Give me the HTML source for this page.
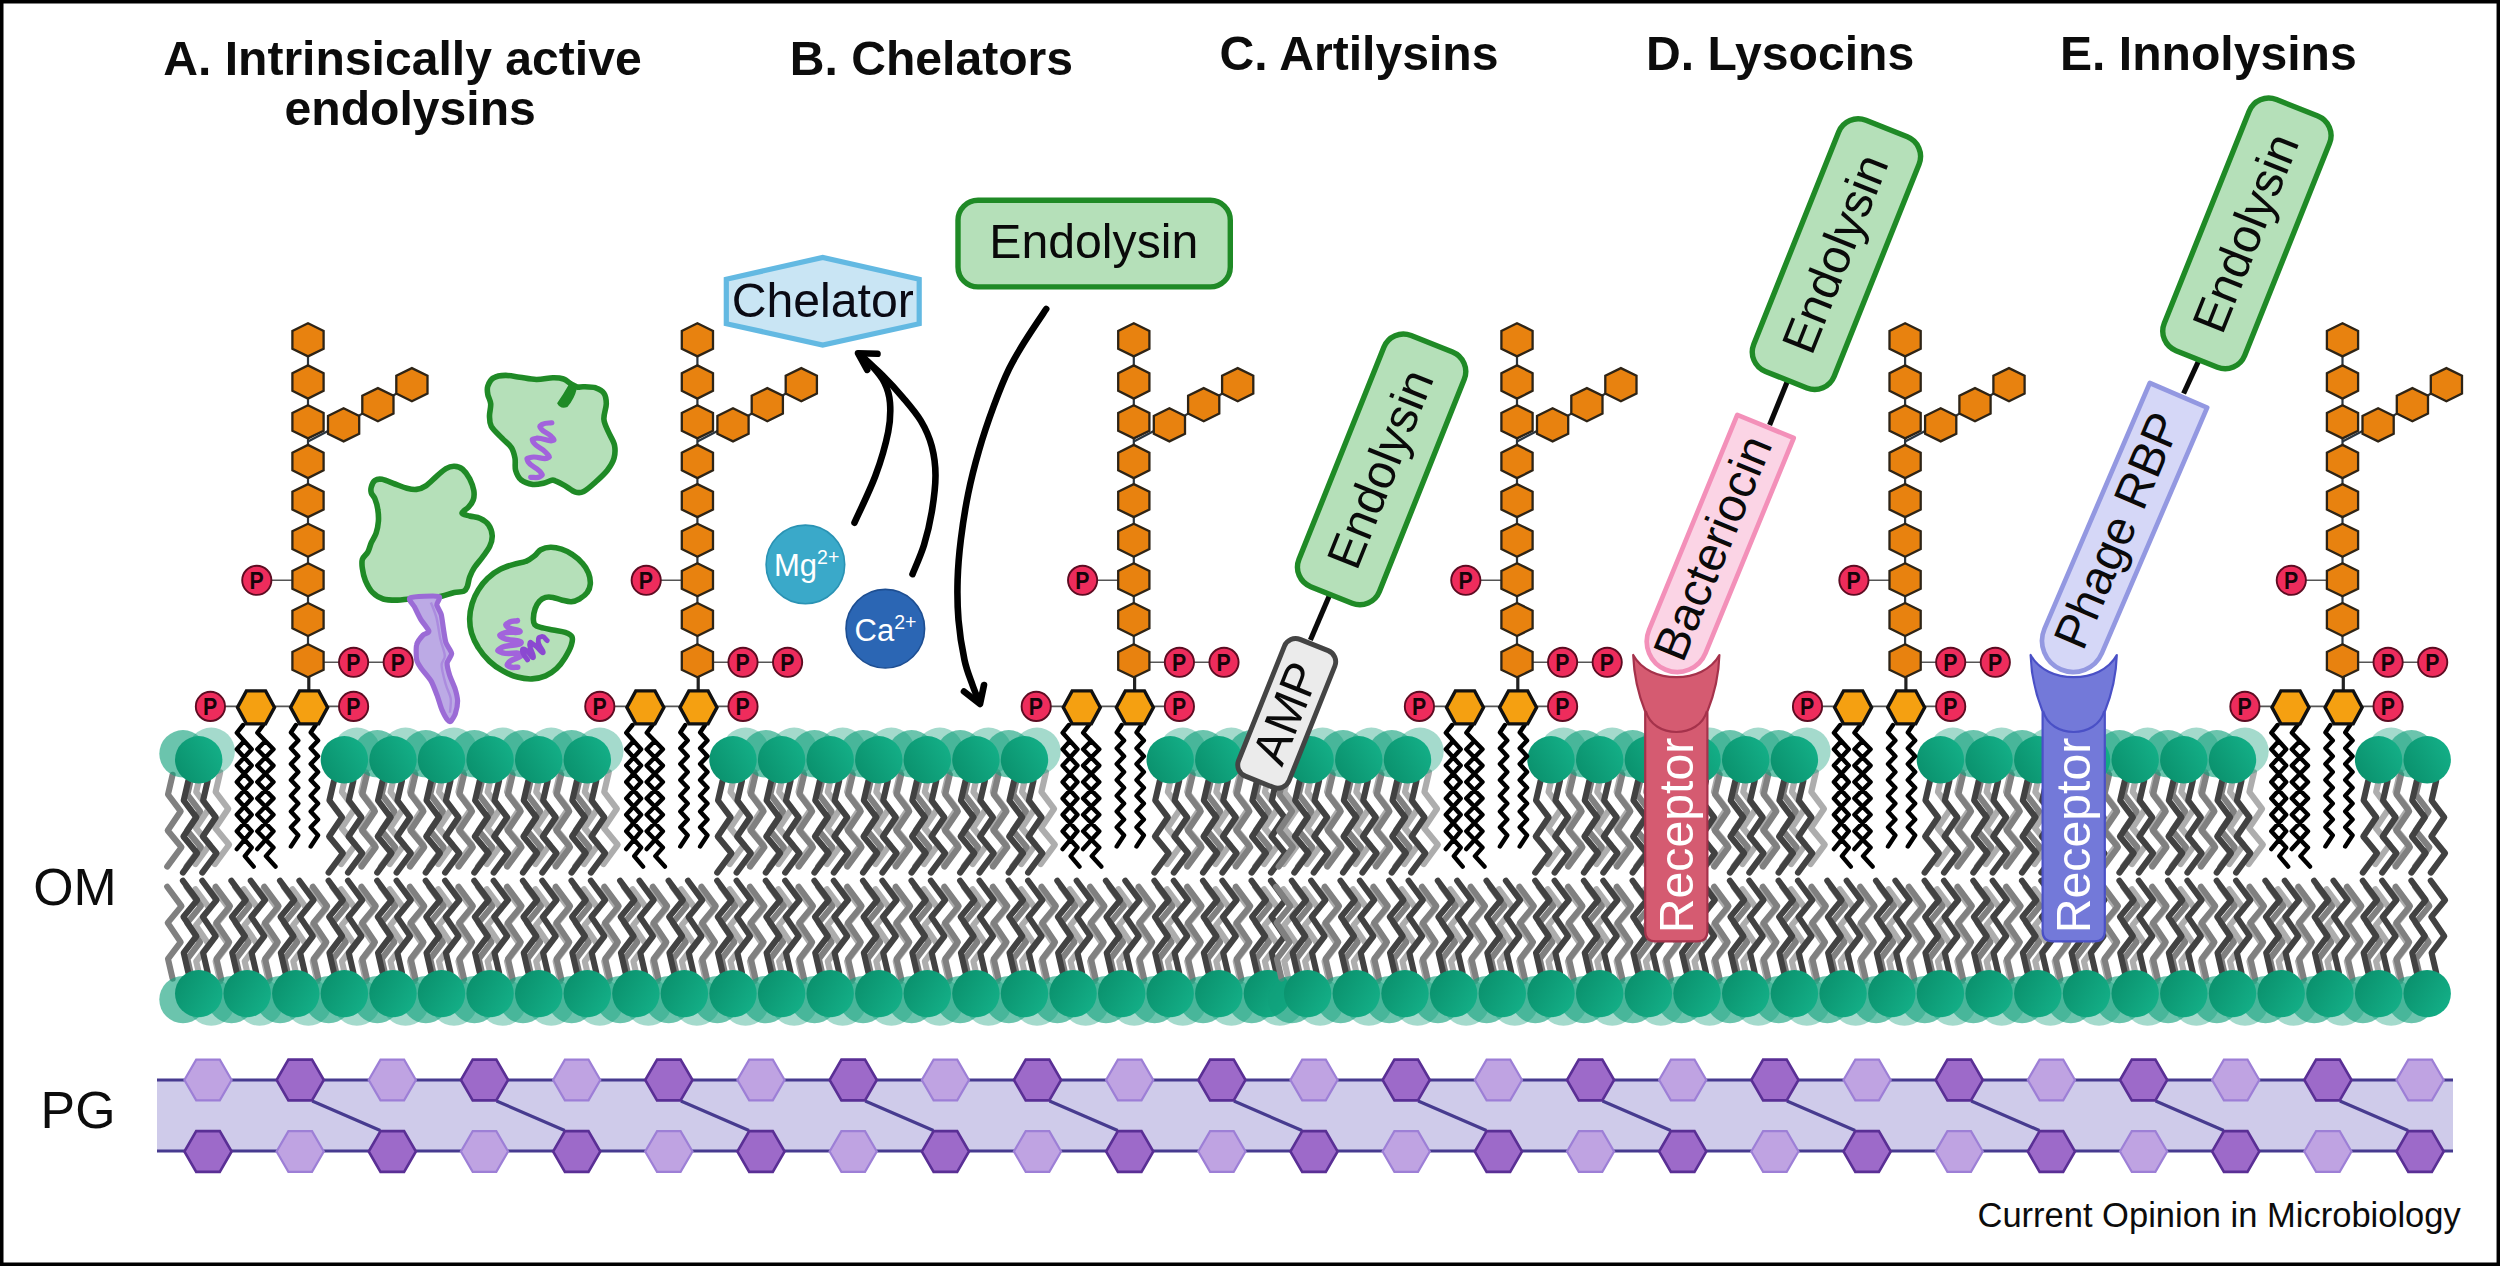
<!DOCTYPE html>
<html><head><meta charset="utf-8"><title>Figure</title>
<style>html,body{margin:0;padding:0;background:#fff}svg{display:block}text{font-family:"Liberation Sans",sans-serif}</style>
</head><body>
<svg width="2500" height="1266" viewBox="0 0 2500 1266">
<defs>
<linearGradient id="hg" x1="0" y1="0.8" x2="1" y2="0.2"><stop offset="0" stop-color="#0a906c"/><stop offset="1" stop-color="#14b088"/></linearGradient>
<g id="lt"><path d="M-10.4,21.0 L-15.0,40.7 L-2.3,57.5 L-15.3,76.7 L-1.5,93.5 L-15.8,112.8 M9.0,21.0 L4.4,40.7 L17.1,57.5 L4.1,76.7 L17.9,93.5 L3.6,112.8" fill="none" stroke-width="6.1" stroke-linecap="round" stroke-linejoin="round"/></g>
<g id="lipM"><use href="#lt" stroke="#424242"/><circle r="23.7" fill="url(#hg)"/></g>
<g id="lipS1"><use href="#lt" stroke="#808080"/><circle r="23.7" fill="#109f7a" fill-opacity="0.62"/></g>
<g id="lipS2"><use href="#lt" stroke="#adadad"/><circle r="23.7" fill="#109f7a" fill-opacity="0.38"/></g>
<g id="P"><circle r="14.6" fill="#ee2c5c" stroke="#5c0c22" stroke-width="1.9"/><text x="-0.3" y="8.9" text-anchor="middle" font-size="24.5" font-weight="bold" fill="#16040a" textLength="14.2" lengthAdjust="spacingAndGlyphs">P</text></g>
<g id="LPS"><g fill="none" stroke="#555" stroke-width="1.6"><path d="M-38,580.3 H-14 M14,662.3 H32 M58,662.3 H77 M-84,706.4 H-70 M-34,706.4 H-18 M20,706.4 H32"/></g><path d="M0,340 V662" stroke="#2b3640" stroke-width="2.2" fill="none"/><path d="M0.8,676 V692" stroke="#222" stroke-width="3.2" fill="none"/><path d="M0,441.5 L21,430.5 M35.6,424.6 L103.9,384.5" stroke="#2b3640" stroke-width="2.2" fill="none"/><path d="M-64.9,725.0 L-71.2,732.8 L-56.3,749.2 L-71.2,765.6 L-56.3,782.0 L-71.2,798.4 L-56.3,814.8 L-71.2,831.2 L-56.3,847.6 L-63.2,856.1 L-54.3,866.6 M-63.8,741.0 L-71.2,749.2 L-56.3,765.6 L-71.2,782.0 L-56.3,798.4 L-71.2,814.8 L-56.3,831.2 L-71.2,849.1 M-44.8,725.0 L-50.7,732.8 L-34.5,749.2 L-50.7,765.6 L-34.5,782.0 L-50.7,798.4 L-34.5,814.8 L-50.7,831.2 L-34.5,847.6 L-42.1,856.1 L-32.5,866.6 M-42.6,741.0 L-50.7,749.2 L-34.5,765.6 L-50.7,782.0 L-34.5,798.4 L-50.7,814.8 L-34.5,831.2 L-50.7,849.1 M-12.1,725.0 L-17.1,732.5 L-9.7,740.4 L-17.1,748.3 L-9.7,756.2 L-17.1,764.1 L-9.7,772.0 L-17.1,779.9 L-9.7,787.8 L-17.1,795.7 L-9.7,803.6 L-17.1,811.5 L-9.7,819.4 L-17.1,827.3 L-9.7,835.2 L-17.1,846.5 M7.7,725.0 L2.7,732.5 L10.1,740.4 L2.7,748.3 L10.1,756.2 L2.7,764.1 L10.1,772.0 L2.7,779.9 L10.1,787.8 L2.7,795.7 L10.1,803.6 L2.7,811.5 L10.1,819.4 L2.7,827.3 L10.1,835.2 L2.7,846.5" fill="none" stroke="#000" stroke-width="4.4" stroke-linecap="round" stroke-linejoin="round"/><g fill="#e8820f" stroke="#2e2416" stroke-width="2.3"><polygon points="0.0,323.2 15.6,330.9 15.6,348.7 0.0,356.4 -15.6,348.7 -15.6,330.9"/><polygon points="0.0,365.4 15.6,373.1 15.6,390.9 0.0,398.6 -15.6,390.9 -15.6,373.1"/><polygon points="0.0,405.2 15.6,412.9 15.6,430.7 0.0,438.4 -15.6,430.7 -15.6,412.9"/><polygon points="0.0,444.9 15.6,452.6 15.6,470.4 0.0,478.1 -15.6,470.4 -15.6,452.6"/><polygon points="0.0,484.1 15.6,491.7 15.6,509.5 0.0,517.1 -15.6,509.5 -15.6,491.7"/><polygon points="0.0,523.7 15.6,531.3 15.6,549.1 0.0,556.8 -15.6,549.1 -15.6,531.3"/><polygon points="0.0,563.2 15.6,570.9 15.6,588.7 0.0,596.3 -15.6,588.7 -15.6,570.9"/><polygon points="0.0,603.0 15.6,610.6 15.6,628.4 0.0,636.0 -15.6,628.4 -15.6,610.6"/><polygon points="0.0,644.2 15.6,651.9 15.6,669.7 0.0,677.3 -15.6,669.7 -15.6,651.9"/><polygon points="35.6,408.2 51.2,415.9 51.2,433.7 35.6,441.4 20.0,433.7 20.0,415.9"/><polygon points="69.9,388.1 85.5,395.7 85.5,413.5 69.9,421.2 54.3,413.5 54.3,395.7"/><polygon points="103.9,368.1 119.5,375.8 119.5,393.6 103.9,401.2 88.3,393.6 88.3,375.8"/></g><g fill="#f5a011" stroke="#111" stroke-width="3.4" stroke-linejoin="miter"><polygon points="-70.5,707.4 -61.6,690.9 -42.4,690.9 -33.5,707.4 -42.4,723.9 -61.6,723.9"/><polygon points="-17.4,707.4 -8.5,690.9 10.7,690.9 19.6,707.4 10.7,723.9 -8.5,723.9"/></g><use href="#P" x="-51.2" y="580.3"/><use href="#P" x="45.6" y="662.3"/><use href="#P" x="90.2" y="662.3"/><use href="#P" x="-97.6" y="706.4"/><use href="#P" x="45.6" y="706.4"/></g>
</defs>
<rect width="2500" height="1266" fill="#fff"/>
<g><use href="#lipS2" x="211.2" y="751.3"/><use href="#lipS2" x="356.9" y="751.3"/><use href="#lipS2" x="405.5" y="751.3"/><use href="#lipS2" x="454.0" y="751.3"/><use href="#lipS2" x="502.6" y="751.3"/><use href="#lipS2" x="551.2" y="751.3"/><use href="#lipS2" x="599.8" y="751.3"/><use href="#lipS2" x="745.5" y="751.3"/><use href="#lipS2" x="794.1" y="751.3"/><use href="#lipS2" x="842.7" y="751.3"/><use href="#lipS2" x="891.3" y="751.3"/><use href="#lipS2" x="939.8" y="751.3"/><use href="#lipS2" x="988.4" y="751.3"/><use href="#lipS2" x="1037.0" y="751.3"/><use href="#lipS2" x="1182.8" y="751.3"/><use href="#lipS2" x="1231.3" y="751.3"/><use href="#lipS2" x="1279.9" y="751.3"/><use href="#lipS2" transform="translate(211.2,1002.1) scale(1,-1)"/><use href="#lipS2" transform="translate(259.7,1002.1) scale(1,-1)"/><use href="#lipS2" transform="translate(308.3,1002.1) scale(1,-1)"/><use href="#lipS2" transform="translate(356.9,1002.1) scale(1,-1)"/><use href="#lipS2" transform="translate(405.5,1002.1) scale(1,-1)"/><use href="#lipS2" transform="translate(454.0,1002.1) scale(1,-1)"/><use href="#lipS2" transform="translate(502.6,1002.1) scale(1,-1)"/><use href="#lipS2" transform="translate(551.2,1002.1) scale(1,-1)"/><use href="#lipS2" transform="translate(599.8,1002.1) scale(1,-1)"/><use href="#lipS2" transform="translate(648.4,1002.1) scale(1,-1)"/><use href="#lipS2" transform="translate(696.9,1002.1) scale(1,-1)"/><use href="#lipS2" transform="translate(745.5,1002.1) scale(1,-1)"/><use href="#lipS2" transform="translate(794.1,1002.1) scale(1,-1)"/><use href="#lipS2" transform="translate(842.7,1002.1) scale(1,-1)"/><use href="#lipS2" transform="translate(891.3,1002.1) scale(1,-1)"/><use href="#lipS2" transform="translate(939.8,1002.1) scale(1,-1)"/><use href="#lipS2" transform="translate(988.4,1002.1) scale(1,-1)"/><use href="#lipS2" transform="translate(1037.0,1002.1) scale(1,-1)"/><use href="#lipS2" transform="translate(1085.6,1002.1) scale(1,-1)"/><use href="#lipS2" transform="translate(1134.2,1002.1) scale(1,-1)"/><use href="#lipS2" transform="translate(1182.8,1002.1) scale(1,-1)"/><use href="#lipS2" transform="translate(1231.3,1002.1) scale(1,-1)"/><use href="#lipS2" transform="translate(1279.9,1002.1) scale(1,-1)"/></g>
<g><use href="#lipS1" x="183.0" y="753.8"/><use href="#lipS1" x="377.3" y="753.8"/><use href="#lipS1" x="425.8" y="753.8"/><use href="#lipS1" x="474.4" y="753.8"/><use href="#lipS1" x="523.0" y="753.8"/><use href="#lipS1" x="571.6" y="753.8"/><use href="#lipS1" x="765.9" y="753.8"/><use href="#lipS1" x="814.5" y="753.8"/><use href="#lipS1" x="863.1" y="753.8"/><use href="#lipS1" x="911.6" y="753.8"/><use href="#lipS1" x="960.2" y="753.8"/><use href="#lipS1" x="1008.8" y="753.8"/><use href="#lipS1" x="1203.1" y="753.8"/><use href="#lipS1" x="1251.7" y="753.8"/><use href="#lipS1" transform="translate(183.0,999.6) scale(1,-1)"/><use href="#lipS1" transform="translate(231.5,999.6) scale(1,-1)"/><use href="#lipS1" transform="translate(280.1,999.6) scale(1,-1)"/><use href="#lipS1" transform="translate(328.7,999.6) scale(1,-1)"/><use href="#lipS1" transform="translate(377.3,999.6) scale(1,-1)"/><use href="#lipS1" transform="translate(425.8,999.6) scale(1,-1)"/><use href="#lipS1" transform="translate(474.4,999.6) scale(1,-1)"/><use href="#lipS1" transform="translate(523.0,999.6) scale(1,-1)"/><use href="#lipS1" transform="translate(571.6,999.6) scale(1,-1)"/><use href="#lipS1" transform="translate(620.2,999.6) scale(1,-1)"/><use href="#lipS1" transform="translate(668.7,999.6) scale(1,-1)"/><use href="#lipS1" transform="translate(717.3,999.6) scale(1,-1)"/><use href="#lipS1" transform="translate(765.9,999.6) scale(1,-1)"/><use href="#lipS1" transform="translate(814.5,999.6) scale(1,-1)"/><use href="#lipS1" transform="translate(863.1,999.6) scale(1,-1)"/><use href="#lipS1" transform="translate(911.6,999.6) scale(1,-1)"/><use href="#lipS1" transform="translate(960.2,999.6) scale(1,-1)"/><use href="#lipS1" transform="translate(1008.8,999.6) scale(1,-1)"/><use href="#lipS1" transform="translate(1057.4,999.6) scale(1,-1)"/><use href="#lipS1" transform="translate(1106.0,999.6) scale(1,-1)"/><use href="#lipS1" transform="translate(1154.5,999.6) scale(1,-1)"/><use href="#lipS1" transform="translate(1203.1,999.6) scale(1,-1)"/><use href="#lipS1" transform="translate(1251.7,999.6) scale(1,-1)"/></g>
<g><use href="#lipM" x="198.7" y="759.8"/><use href="#lipM" x="344.4" y="759.8"/><use href="#lipM" x="393.0" y="759.8"/><use href="#lipM" x="441.5" y="759.8"/><use href="#lipM" x="490.1" y="759.8"/><use href="#lipM" x="538.7" y="759.8"/><use href="#lipM" x="587.3" y="759.8"/><use href="#lipM" x="733.0" y="759.8"/><use href="#lipM" x="781.6" y="759.8"/><use href="#lipM" x="830.2" y="759.8"/><use href="#lipM" x="878.8" y="759.8"/><use href="#lipM" x="927.3" y="759.8"/><use href="#lipM" x="975.9" y="759.8"/><use href="#lipM" x="1024.5" y="759.8"/><use href="#lipM" x="1170.2" y="759.8"/><use href="#lipM" x="1218.8" y="759.8"/><use href="#lipM" x="1267.4" y="759.8"/><use href="#lipM" transform="translate(198.7,993.6) scale(1,-1)"/><use href="#lipM" transform="translate(247.2,993.6) scale(1,-1)"/><use href="#lipM" transform="translate(295.8,993.6) scale(1,-1)"/><use href="#lipM" transform="translate(344.4,993.6) scale(1,-1)"/><use href="#lipM" transform="translate(393.0,993.6) scale(1,-1)"/><use href="#lipM" transform="translate(441.5,993.6) scale(1,-1)"/><use href="#lipM" transform="translate(490.1,993.6) scale(1,-1)"/><use href="#lipM" transform="translate(538.7,993.6) scale(1,-1)"/><use href="#lipM" transform="translate(587.3,993.6) scale(1,-1)"/><use href="#lipM" transform="translate(635.9,993.6) scale(1,-1)"/><use href="#lipM" transform="translate(684.4,993.6) scale(1,-1)"/><use href="#lipM" transform="translate(733.0,993.6) scale(1,-1)"/><use href="#lipM" transform="translate(781.6,993.6) scale(1,-1)"/><use href="#lipM" transform="translate(830.2,993.6) scale(1,-1)"/><use href="#lipM" transform="translate(878.8,993.6) scale(1,-1)"/><use href="#lipM" transform="translate(927.3,993.6) scale(1,-1)"/><use href="#lipM" transform="translate(975.9,993.6) scale(1,-1)"/><use href="#lipM" transform="translate(1024.5,993.6) scale(1,-1)"/><use href="#lipM" transform="translate(1073.1,993.6) scale(1,-1)"/><use href="#lipM" transform="translate(1121.7,993.6) scale(1,-1)"/><use href="#lipM" transform="translate(1170.2,993.6) scale(1,-1)"/><use href="#lipM" transform="translate(1218.8,993.6) scale(1,-1)"/><use href="#lipM" transform="translate(1267.4,993.6) scale(1,-1)"/></g>
<g><use href="#lipS2" x="1322.6" y="751.3"/><use href="#lipS2" x="1371.3" y="751.3"/><use href="#lipS2" x="1420.0" y="751.3"/><use href="#lipS2" x="1563.5" y="751.3"/><use href="#lipS2" x="1612.2" y="751.3"/><use href="#lipS2" x="1660.9" y="751.3"/><use href="#lipS2" x="1709.5" y="751.3"/><use href="#lipS2" x="1758.2" y="751.3"/><use href="#lipS2" x="1806.9" y="751.3"/><use href="#lipS2" x="1952.9" y="751.3"/><use href="#lipS2" x="2001.6" y="751.3"/><use href="#lipS2" x="2050.3" y="751.3"/><use href="#lipS2" x="2099.0" y="751.3"/><use href="#lipS2" x="2147.7" y="751.3"/><use href="#lipS2" x="2196.3" y="751.3"/><use href="#lipS2" x="2245.0" y="751.3"/><use href="#lipS2" x="2391.1" y="751.3"/><use href="#lipS2" transform="translate(1320.1,1002.1) scale(1,-1)"/><use href="#lipS2" transform="translate(1368.8,1002.1) scale(1,-1)"/><use href="#lipS2" transform="translate(1417.5,1002.1) scale(1,-1)"/><use href="#lipS2" transform="translate(1466.1,1002.1) scale(1,-1)"/><use href="#lipS2" transform="translate(1514.8,1002.1) scale(1,-1)"/><use href="#lipS2" transform="translate(1563.5,1002.1) scale(1,-1)"/><use href="#lipS2" transform="translate(1612.2,1002.1) scale(1,-1)"/><use href="#lipS2" transform="translate(1660.9,1002.1) scale(1,-1)"/><use href="#lipS2" transform="translate(1709.5,1002.1) scale(1,-1)"/><use href="#lipS2" transform="translate(1758.2,1002.1) scale(1,-1)"/><use href="#lipS2" transform="translate(1806.9,1002.1) scale(1,-1)"/><use href="#lipS2" transform="translate(1855.6,1002.1) scale(1,-1)"/><use href="#lipS2" transform="translate(1904.3,1002.1) scale(1,-1)"/><use href="#lipS2" transform="translate(1952.9,1002.1) scale(1,-1)"/><use href="#lipS2" transform="translate(2001.6,1002.1) scale(1,-1)"/><use href="#lipS2" transform="translate(2050.3,1002.1) scale(1,-1)"/><use href="#lipS2" transform="translate(2099.0,1002.1) scale(1,-1)"/><use href="#lipS2" transform="translate(2147.7,1002.1) scale(1,-1)"/><use href="#lipS2" transform="translate(2196.3,1002.1) scale(1,-1)"/><use href="#lipS2" transform="translate(2245.0,1002.1) scale(1,-1)"/><use href="#lipS2" transform="translate(2293.7,1002.1) scale(1,-1)"/><use href="#lipS2" transform="translate(2342.4,1002.1) scale(1,-1)"/><use href="#lipS2" transform="translate(2391.1,1002.1) scale(1,-1)"/></g>
<g><use href="#lipS1" x="1294.4" y="753.8"/><use href="#lipS1" x="1343.1" y="753.8"/><use href="#lipS1" x="1391.8" y="753.8"/><use href="#lipS1" x="1584.0" y="753.8"/><use href="#lipS1" x="1632.7" y="753.8"/><use href="#lipS1" x="1681.3" y="753.8"/><use href="#lipS1" x="1730.0" y="753.8"/><use href="#lipS1" x="1778.7" y="753.8"/><use href="#lipS1" x="1973.4" y="753.8"/><use href="#lipS1" x="2022.1" y="753.8"/><use href="#lipS1" x="2070.8" y="753.8"/><use href="#lipS1" x="2119.5" y="753.8"/><use href="#lipS1" x="2168.1" y="753.8"/><use href="#lipS1" x="2216.8" y="753.8"/><use href="#lipS1" x="2411.5" y="753.8"/><use href="#lipS1" transform="translate(1291.9,999.6) scale(1,-1)"/><use href="#lipS1" transform="translate(1340.6,999.6) scale(1,-1)"/><use href="#lipS1" transform="translate(1389.3,999.6) scale(1,-1)"/><use href="#lipS1" transform="translate(1437.9,999.6) scale(1,-1)"/><use href="#lipS1" transform="translate(1486.6,999.6) scale(1,-1)"/><use href="#lipS1" transform="translate(1535.3,999.6) scale(1,-1)"/><use href="#lipS1" transform="translate(1584.0,999.6) scale(1,-1)"/><use href="#lipS1" transform="translate(1632.7,999.6) scale(1,-1)"/><use href="#lipS1" transform="translate(1681.3,999.6) scale(1,-1)"/><use href="#lipS1" transform="translate(1730.0,999.6) scale(1,-1)"/><use href="#lipS1" transform="translate(1778.7,999.6) scale(1,-1)"/><use href="#lipS1" transform="translate(1827.4,999.6) scale(1,-1)"/><use href="#lipS1" transform="translate(1876.1,999.6) scale(1,-1)"/><use href="#lipS1" transform="translate(1924.7,999.6) scale(1,-1)"/><use href="#lipS1" transform="translate(1973.4,999.6) scale(1,-1)"/><use href="#lipS1" transform="translate(2022.1,999.6) scale(1,-1)"/><use href="#lipS1" transform="translate(2070.8,999.6) scale(1,-1)"/><use href="#lipS1" transform="translate(2119.5,999.6) scale(1,-1)"/><use href="#lipS1" transform="translate(2168.1,999.6) scale(1,-1)"/><use href="#lipS1" transform="translate(2216.8,999.6) scale(1,-1)"/><use href="#lipS1" transform="translate(2265.5,999.6) scale(1,-1)"/><use href="#lipS1" transform="translate(2314.2,999.6) scale(1,-1)"/><use href="#lipS1" transform="translate(2362.9,999.6) scale(1,-1)"/><use href="#lipS1" transform="translate(2411.5,999.6) scale(1,-1)"/></g>
<g><use href="#lipM" x="1310.1" y="759.8"/><use href="#lipM" x="1358.8" y="759.8"/><use href="#lipM" x="1407.5" y="759.8"/><use href="#lipM" x="1551.0" y="759.8"/><use href="#lipM" x="1599.7" y="759.8"/><use href="#lipM" x="1648.4" y="759.8"/><use href="#lipM" x="1697.0" y="759.8"/><use href="#lipM" x="1745.7" y="759.8"/><use href="#lipM" x="1794.4" y="759.8"/><use href="#lipM" x="1940.4" y="759.8"/><use href="#lipM" x="1989.1" y="759.8"/><use href="#lipM" x="2037.8" y="759.8"/><use href="#lipM" x="2086.5" y="759.8"/><use href="#lipM" x="2135.2" y="759.8"/><use href="#lipM" x="2183.8" y="759.8"/><use href="#lipM" x="2232.5" y="759.8"/><use href="#lipM" x="2378.6" y="759.8"/><use href="#lipM" x="2427.2" y="759.8"/><use href="#lipM" transform="translate(1307.6,993.6) scale(1,-1)"/><use href="#lipM" transform="translate(1356.3,993.6) scale(1,-1)"/><use href="#lipM" transform="translate(1405.0,993.6) scale(1,-1)"/><use href="#lipM" transform="translate(1453.6,993.6) scale(1,-1)"/><use href="#lipM" transform="translate(1502.3,993.6) scale(1,-1)"/><use href="#lipM" transform="translate(1551.0,993.6) scale(1,-1)"/><use href="#lipM" transform="translate(1599.7,993.6) scale(1,-1)"/><use href="#lipM" transform="translate(1648.4,993.6) scale(1,-1)"/><use href="#lipM" transform="translate(1697.0,993.6) scale(1,-1)"/><use href="#lipM" transform="translate(1745.7,993.6) scale(1,-1)"/><use href="#lipM" transform="translate(1794.4,993.6) scale(1,-1)"/><use href="#lipM" transform="translate(1843.1,993.6) scale(1,-1)"/><use href="#lipM" transform="translate(1891.8,993.6) scale(1,-1)"/><use href="#lipM" transform="translate(1940.4,993.6) scale(1,-1)"/><use href="#lipM" transform="translate(1989.1,993.6) scale(1,-1)"/><use href="#lipM" transform="translate(2037.8,993.6) scale(1,-1)"/><use href="#lipM" transform="translate(2086.5,993.6) scale(1,-1)"/><use href="#lipM" transform="translate(2135.2,993.6) scale(1,-1)"/><use href="#lipM" transform="translate(2183.8,993.6) scale(1,-1)"/><use href="#lipM" transform="translate(2232.5,993.6) scale(1,-1)"/><use href="#lipM" transform="translate(2281.2,993.6) scale(1,-1)"/><use href="#lipM" transform="translate(2329.9,993.6) scale(1,-1)"/><use href="#lipM" transform="translate(2378.6,993.6) scale(1,-1)"/><use href="#lipM" transform="translate(2427.2,993.6) scale(1,-1)"/></g>
<use href="#LPS" x="308.0" y="0.0"/>
<use href="#LPS" x="697.4" y="0.0"/>
<use href="#LPS" x="1133.8" y="0.0"/>
<use href="#LPS" x="1517.0" y="0.0"/>
<use href="#LPS" x="1905.1" y="0.0"/>
<use href="#LPS" x="2342.5" y="0.0"/>
<rect x="157" y="1080" width="2296" height="71" fill="#cfcbea"/>
<path d="M157,1080 H2453 M157,1151 H2453" stroke="#473b8f" stroke-width="3.2" fill="none"/>
<path d="M312.2,1101.0 L380.3,1130.5 M496.5,1101.0 L564.7,1130.5 M680.9,1101.0 L749.0,1130.5 M865.2,1101.0 L933.4,1130.5 M1049.5,1101.0 L1117.7,1130.5 M1233.9,1101.0 L1302.0,1130.5 M1418.2,1101.0 L1486.4,1130.5 M1602.5,1101.0 L1670.7,1130.5 M1786.9,1101.0 L1855.1,1130.5 M1971.2,1101.0 L2039.4,1130.5 M2155.6,1101.0 L2223.7,1130.5 M2339.9,1101.0 L2408.1,1130.5" stroke="#473b8f" stroke-width="3.2" fill="none"/>
<polygon points="231.6,1080.0 219.8,1059.6 196.2,1059.6 184.4,1080.0 196.2,1100.4 219.8,1100.4" fill="#bfa3e2" stroke="#9d7fd6" stroke-width="2.2"/>
<polygon points="231.6,1151.5 219.8,1131.1 196.2,1131.1 184.4,1151.5 196.2,1171.9 219.8,1171.9" fill="#9d6ac9" stroke="#5a2f95" stroke-width="2.6"/>
<polygon points="323.8,1080.0 312.0,1059.6 288.4,1059.6 276.6,1080.0 288.4,1100.4 312.0,1100.4" fill="#9d6ac9" stroke="#5a2f95" stroke-width="2.6"/>
<polygon points="323.8,1151.5 312.0,1131.1 288.4,1131.1 276.6,1151.5 288.4,1171.9 312.0,1171.9" fill="#bfa3e2" stroke="#9d7fd6" stroke-width="2.2"/>
<polygon points="415.9,1080.0 404.1,1059.6 380.5,1059.6 368.7,1080.0 380.5,1100.4 404.1,1100.4" fill="#bfa3e2" stroke="#9d7fd6" stroke-width="2.2"/>
<polygon points="415.9,1151.5 404.1,1131.1 380.5,1131.1 368.7,1151.5 380.5,1171.9 404.1,1171.9" fill="#9d6ac9" stroke="#5a2f95" stroke-width="2.6"/>
<polygon points="508.1,1080.0 496.3,1059.6 472.7,1059.6 460.9,1080.0 472.7,1100.4 496.3,1100.4" fill="#9d6ac9" stroke="#5a2f95" stroke-width="2.6"/>
<polygon points="508.1,1151.5 496.3,1131.1 472.7,1131.1 460.9,1151.5 472.7,1171.9 496.3,1171.9" fill="#bfa3e2" stroke="#9d7fd6" stroke-width="2.2"/>
<polygon points="600.3,1080.0 588.5,1059.6 564.9,1059.6 553.1,1080.0 564.9,1100.4 588.5,1100.4" fill="#bfa3e2" stroke="#9d7fd6" stroke-width="2.2"/>
<polygon points="600.3,1151.5 588.5,1131.1 564.9,1131.1 553.1,1151.5 564.9,1171.9 588.5,1171.9" fill="#9d6ac9" stroke="#5a2f95" stroke-width="2.6"/>
<polygon points="692.5,1080.0 680.6,1059.6 657.1,1059.6 645.2,1080.0 657.0,1100.4 680.6,1100.4" fill="#9d6ac9" stroke="#5a2f95" stroke-width="2.6"/>
<polygon points="692.5,1151.5 680.6,1131.1 657.1,1131.1 645.2,1151.5 657.0,1171.9 680.6,1171.9" fill="#bfa3e2" stroke="#9d7fd6" stroke-width="2.2"/>
<polygon points="784.6,1080.0 772.8,1059.6 749.2,1059.6 737.4,1080.0 749.2,1100.4 772.8,1100.4" fill="#bfa3e2" stroke="#9d7fd6" stroke-width="2.2"/>
<polygon points="784.6,1151.5 772.8,1131.1 749.2,1131.1 737.4,1151.5 749.2,1171.9 772.8,1171.9" fill="#9d6ac9" stroke="#5a2f95" stroke-width="2.6"/>
<polygon points="876.8,1080.0 865.0,1059.6 841.4,1059.6 829.6,1080.0 841.4,1100.4 865.0,1100.4" fill="#9d6ac9" stroke="#5a2f95" stroke-width="2.6"/>
<polygon points="876.8,1151.5 865.0,1131.1 841.4,1131.1 829.6,1151.5 841.4,1171.9 865.0,1171.9" fill="#bfa3e2" stroke="#9d7fd6" stroke-width="2.2"/>
<polygon points="969.0,1080.0 957.2,1059.6 933.6,1059.6 921.8,1080.0 933.6,1100.4 957.2,1100.4" fill="#bfa3e2" stroke="#9d7fd6" stroke-width="2.2"/>
<polygon points="969.0,1151.5 957.2,1131.1 933.6,1131.1 921.8,1151.5 933.6,1171.9 957.2,1171.9" fill="#9d6ac9" stroke="#5a2f95" stroke-width="2.6"/>
<polygon points="1061.1,1080.0 1049.3,1059.6 1025.7,1059.6 1013.9,1080.0 1025.7,1100.4 1049.3,1100.4" fill="#9d6ac9" stroke="#5a2f95" stroke-width="2.6"/>
<polygon points="1061.1,1151.5 1049.3,1131.1 1025.7,1131.1 1013.9,1151.5 1025.7,1171.9 1049.3,1171.9" fill="#bfa3e2" stroke="#9d7fd6" stroke-width="2.2"/>
<polygon points="1153.3,1080.0 1141.5,1059.6 1117.9,1059.6 1106.1,1080.0 1117.9,1100.4 1141.5,1100.4" fill="#bfa3e2" stroke="#9d7fd6" stroke-width="2.2"/>
<polygon points="1153.3,1151.5 1141.5,1131.1 1117.9,1131.1 1106.1,1151.5 1117.9,1171.9 1141.5,1171.9" fill="#9d6ac9" stroke="#5a2f95" stroke-width="2.6"/>
<polygon points="1245.5,1080.0 1233.7,1059.6 1210.1,1059.6 1198.3,1080.0 1210.1,1100.4 1233.7,1100.4" fill="#9d6ac9" stroke="#5a2f95" stroke-width="2.6"/>
<polygon points="1245.5,1151.5 1233.7,1131.1 1210.1,1131.1 1198.3,1151.5 1210.1,1171.9 1233.7,1171.9" fill="#bfa3e2" stroke="#9d7fd6" stroke-width="2.2"/>
<polygon points="1337.6,1080.0 1325.8,1059.6 1302.2,1059.6 1290.4,1080.0 1302.2,1100.4 1325.8,1100.4" fill="#bfa3e2" stroke="#9d7fd6" stroke-width="2.2"/>
<polygon points="1337.6,1151.5 1325.8,1131.1 1302.2,1131.1 1290.4,1151.5 1302.2,1171.9 1325.8,1171.9" fill="#9d6ac9" stroke="#5a2f95" stroke-width="2.6"/>
<polygon points="1429.8,1080.0 1418.0,1059.6 1394.4,1059.6 1382.6,1080.0 1394.4,1100.4 1418.0,1100.4" fill="#9d6ac9" stroke="#5a2f95" stroke-width="2.6"/>
<polygon points="1429.8,1151.5 1418.0,1131.1 1394.4,1131.1 1382.6,1151.5 1394.4,1171.9 1418.0,1171.9" fill="#bfa3e2" stroke="#9d7fd6" stroke-width="2.2"/>
<polygon points="1522.0,1080.0 1510.2,1059.6 1486.6,1059.6 1474.8,1080.0 1486.6,1100.4 1510.2,1100.4" fill="#bfa3e2" stroke="#9d7fd6" stroke-width="2.2"/>
<polygon points="1522.0,1151.5 1510.2,1131.1 1486.6,1131.1 1474.8,1151.5 1486.6,1171.9 1510.2,1171.9" fill="#9d6ac9" stroke="#5a2f95" stroke-width="2.6"/>
<polygon points="1614.1,1080.0 1602.3,1059.6 1578.8,1059.6 1567.0,1080.0 1578.8,1100.4 1602.3,1100.4" fill="#9d6ac9" stroke="#5a2f95" stroke-width="2.6"/>
<polygon points="1614.1,1151.5 1602.3,1131.1 1578.8,1131.1 1567.0,1151.5 1578.8,1171.9 1602.3,1171.9" fill="#bfa3e2" stroke="#9d7fd6" stroke-width="2.2"/>
<polygon points="1706.3,1080.0 1694.5,1059.6 1670.9,1059.6 1659.1,1080.0 1670.9,1100.4 1694.5,1100.4" fill="#bfa3e2" stroke="#9d7fd6" stroke-width="2.2"/>
<polygon points="1706.3,1151.5 1694.5,1131.1 1670.9,1131.1 1659.1,1151.5 1670.9,1171.9 1694.5,1171.9" fill="#9d6ac9" stroke="#5a2f95" stroke-width="2.6"/>
<polygon points="1798.5,1080.0 1786.7,1059.6 1763.1,1059.6 1751.3,1080.0 1763.1,1100.4 1786.7,1100.4" fill="#9d6ac9" stroke="#5a2f95" stroke-width="2.6"/>
<polygon points="1798.5,1151.5 1786.7,1131.1 1763.1,1131.1 1751.3,1151.5 1763.1,1171.9 1786.7,1171.9" fill="#bfa3e2" stroke="#9d7fd6" stroke-width="2.2"/>
<polygon points="1890.7,1080.0 1878.9,1059.6 1855.3,1059.6 1843.5,1080.0 1855.3,1100.4 1878.9,1100.4" fill="#bfa3e2" stroke="#9d7fd6" stroke-width="2.2"/>
<polygon points="1890.7,1151.5 1878.9,1131.1 1855.3,1131.1 1843.5,1151.5 1855.3,1171.9 1878.9,1171.9" fill="#9d6ac9" stroke="#5a2f95" stroke-width="2.6"/>
<polygon points="1982.8,1080.0 1971.0,1059.6 1947.4,1059.6 1935.6,1080.0 1947.4,1100.4 1971.0,1100.4" fill="#9d6ac9" stroke="#5a2f95" stroke-width="2.6"/>
<polygon points="1982.8,1151.5 1971.0,1131.1 1947.4,1131.1 1935.6,1151.5 1947.4,1171.9 1971.0,1171.9" fill="#bfa3e2" stroke="#9d7fd6" stroke-width="2.2"/>
<polygon points="2075.0,1080.0 2063.2,1059.6 2039.6,1059.6 2027.8,1080.0 2039.6,1100.4 2063.2,1100.4" fill="#bfa3e2" stroke="#9d7fd6" stroke-width="2.2"/>
<polygon points="2075.0,1151.5 2063.2,1131.1 2039.6,1131.1 2027.8,1151.5 2039.6,1171.9 2063.2,1171.9" fill="#9d6ac9" stroke="#5a2f95" stroke-width="2.6"/>
<polygon points="2167.2,1080.0 2155.4,1059.6 2131.8,1059.6 2120.0,1080.0 2131.8,1100.4 2155.4,1100.4" fill="#9d6ac9" stroke="#5a2f95" stroke-width="2.6"/>
<polygon points="2167.2,1151.5 2155.4,1131.1 2131.8,1131.1 2120.0,1151.5 2131.8,1171.9 2155.4,1171.9" fill="#bfa3e2" stroke="#9d7fd6" stroke-width="2.2"/>
<polygon points="2259.3,1080.0 2247.5,1059.6 2223.9,1059.6 2212.1,1080.0 2223.9,1100.4 2247.5,1100.4" fill="#bfa3e2" stroke="#9d7fd6" stroke-width="2.2"/>
<polygon points="2259.3,1151.5 2247.5,1131.1 2223.9,1131.1 2212.1,1151.5 2223.9,1171.9 2247.5,1171.9" fill="#9d6ac9" stroke="#5a2f95" stroke-width="2.6"/>
<polygon points="2351.5,1080.0 2339.7,1059.6 2316.1,1059.6 2304.3,1080.0 2316.1,1100.4 2339.7,1100.4" fill="#9d6ac9" stroke="#5a2f95" stroke-width="2.6"/>
<polygon points="2351.5,1151.5 2339.7,1131.1 2316.1,1131.1 2304.3,1151.5 2316.1,1171.9 2339.7,1171.9" fill="#bfa3e2" stroke="#9d7fd6" stroke-width="2.2"/>
<polygon points="2443.7,1080.0 2431.9,1059.6 2408.3,1059.6 2396.5,1080.0 2408.3,1100.4 2431.9,1100.4" fill="#bfa3e2" stroke="#9d7fd6" stroke-width="2.2"/>
<polygon points="2443.7,1151.5 2431.9,1131.1 2408.3,1131.1 2396.5,1151.5 2408.3,1171.9 2431.9,1171.9" fill="#9d6ac9" stroke="#5a2f95" stroke-width="2.6"/>
<path d="M487.8,386.1C488.8,383.3 490.7,379.5 493.7,377.8C496.7,376.0 501.2,375.5 505.5,375.4C509.9,375.3 514.6,376.5 519.8,377.2C524.9,377.9 530.8,379.5 536.4,379.5C541.9,379.6 548.4,377.9 552.9,377.8C557.5,377.7 560.6,378.0 563.6,379.0C566.6,379.9 568.4,382.4 570.7,383.7C573.0,385.0 575.1,386.5 577.2,387.0C579.4,387.5 580.7,386.5 583.7,386.7C586.8,386.8 592.2,386.8 595.6,387.8C598.9,388.9 602.1,390.5 603.9,393.2C605.7,395.8 606.3,399.5 606.3,403.8C606.3,408.2 603.5,414.5 603.9,419.2C604.3,424.0 606.8,427.9 608.6,432.3C610.4,436.6 613.7,441.0 614.5,445.3C615.4,449.7 615.1,454.2 614.0,458.3C612.8,462.5 610.5,466.2 607.4,470.2C604.4,474.1 599.5,478.5 595.6,482.0C591.6,485.6 587.1,489.8 583.7,491.5C580.4,493.2 578.6,493.1 575.5,492.1C572.3,491.1 568.1,487.5 564.8,485.6C561.4,483.7 557.5,481.7 555.3,480.9C553.1,480.0 553.7,479.9 551.8,480.3C549.8,480.7 546.6,482.5 543.5,483.2C540.3,483.9 536.5,485.0 532.8,484.4C529.0,483.8 523.8,482.0 520.9,479.7C518.1,477.3 516.6,473.7 515.6,470.2C514.6,466.6 515.7,462.1 515.0,458.3C514.3,454.6 513.6,451.0 511.5,447.7C509.3,444.3 505.3,441.8 502.0,438.2C498.6,434.6 493.4,430.1 491.3,426.4C489.3,422.6 489.6,419.4 489.5,415.7C489.5,411.9 491.0,407.4 490.7,403.8C490.4,400.3 488.3,397.3 487.8,394.4C487.3,391.4 486.8,388.8 487.8,386.1Z" fill="#b5e0b9" stroke="#1f8a26" stroke-width="5.6" stroke-linejoin="round"/>
<path d="M569.3,383.7 Q563.6,393.8 557.1,403.2 Q560.3,409.5 567.4,406.9 Q574.3,399.1 576.9,388.4 Z" fill="#1f8a26"/>
<path d="M551.8,422.8C549.0,423.3 545.6,422.5 542.5,424.3C539.4,426.2 538.9,425.5 541.3,429.0C543.7,432.4 547.4,432.3 550.6,435.8C553.7,439.4 555.9,440.1 551.8,440.8C547.6,441.5 541.9,437.5 536.6,438.2C531.3,438.9 531.2,438.9 534.0,443.2C536.8,447.4 541.9,447.9 545.8,452.4C549.7,457.0 551.2,456.9 547.0,458.3C542.8,459.8 537.5,456.0 531.8,457.2C526.2,458.3 525.9,457.9 528.3,462.1C530.7,466.4 536.4,467.0 539.9,471.4C543.4,475.7 542.7,474.9 539.9,476.7C537.1,478.5 533.4,477.1 530.7,477.3" fill="none" stroke="#a263dc" stroke-width="5.2" stroke-linecap="round" stroke-linejoin="round"/>
<path d="M371.3,487.0C371.9,484.9 373.1,481.8 374.9,480.5C376.7,479.2 378.6,478.7 382.0,479.3C385.3,479.9 390.9,482.5 395.0,484.0C399.2,485.5 403.3,487.3 406.9,488.2C410.4,489.1 413.2,489.8 416.4,489.4C419.5,489.0 422.5,488.0 425.8,485.8C429.2,483.6 433.1,479.2 436.5,476.3C439.8,473.5 443.0,470.3 446.0,468.6C448.9,466.9 451.5,466.2 454.3,466.3C457.0,466.4 460.0,467.1 462.6,469.2C465.1,471.3 467.8,475.1 469.7,478.7C471.5,482.3 473.2,487.0 473.8,490.5C474.4,494.1 474.1,497.3 473.2,500.0C472.3,502.8 470.4,505.0 468.5,507.1C466.6,509.3 461.8,511.6 462.0,513.1C462.2,514.5 466.6,515.1 469.7,516.0C472.7,516.9 477.2,516.9 480.3,518.4C483.5,519.9 486.7,522.0 488.6,524.9C490.6,527.8 492.0,532.0 492.2,535.6C492.4,539.1 491.4,542.7 489.8,546.2C488.2,549.8 485.3,553.3 482.7,556.9C480.1,560.5 476.6,564.2 474.4,567.6C472.2,570.9 470.9,573.9 469.7,577.0C468.5,580.2 468.3,584.1 467.3,586.5C466.3,588.9 465.9,590.3 463.7,591.3C461.6,592.2 457.8,591.7 454.3,592.4C450.7,593.2 446.0,595.1 442.4,596.0C438.9,596.9 436.5,597.3 432.9,597.8C429.4,598.2 425.0,598.4 421.1,598.6C417.1,598.8 413.2,598.7 409.2,599.0C405.3,599.2 401.7,600.1 397.4,600.1C393.0,600.1 387.3,600.2 383.2,599.0C379.0,597.7 375.5,595.5 372.5,592.4C369.5,589.4 367.1,584.5 365.4,580.6C363.7,576.6 362.9,572.3 362.4,568.7C361.9,565.2 361.6,562.0 362.4,559.3C363.3,556.5 366.3,554.9 367.8,552.2C369.3,549.4 369.9,545.8 371.3,542.7C372.7,539.5 374.9,536.8 376.1,533.2C377.3,529.6 378.1,525.3 378.4,521.4C378.7,517.4 378.4,513.3 377.8,509.5C377.3,505.8 376.0,501.6 374.9,498.8C373.8,496.1 371.9,494.9 371.3,492.9C370.7,490.9 370.7,489.1 371.3,487.0Z" fill="#b5e0b9" stroke="#1f8a26" stroke-width="5.6" stroke-linejoin="round"/>
<path d="M410.2,597.8C412.9,596.5 435.5,595.5 438.6,596.4C441.7,597.2 436.5,602.8 436.8,604.9C437.1,607.0 440.4,611.5 441.2,614.4C442.0,617.3 443.0,626.5 443.6,629.8C444.1,633.1 445.0,640.1 446.0,642.8C446.9,645.6 451.5,651.1 451.6,653.5C451.8,655.8 447.4,660.5 447.1,663.0C446.9,665.5 448.6,671.8 449.5,674.8C450.4,677.9 454.3,686.0 455.2,689.1C456.1,692.1 457.5,698.1 457.6,700.9C457.6,703.7 456.2,711.0 455.4,713.4C454.7,715.7 452.0,720.3 451.0,721.1C450.1,721.8 448.6,721.2 447.5,719.9C446.4,718.6 443.1,712.6 441.9,709.8C440.7,707.0 438.4,698.9 437.2,695.6C435.9,692.3 433.0,684.4 431.3,681.4C429.5,678.3 423.5,671.6 421.8,669.1C420.1,666.7 417.3,662.9 416.7,660.0C416.1,657.2 415.9,647.5 416.7,644.6C417.4,641.7 421.5,636.7 423.0,635.1C424.4,633.6 429.2,633.1 428.9,631.2C428.6,629.3 422.2,621.9 420.6,619.1C418.9,616.3 415.9,609.8 414.7,607.3C413.4,604.8 407.4,599.1 410.2,597.8Z" fill="#bcaae5" stroke="#9b6bd6" stroke-width="5.2" stroke-linejoin="round"/>
<path d="M430.9,602.5C431.8,605.1 434.9,611.8 436.5,617.9C438.0,624.1 439.0,632.9 440.4,639.3C441.8,645.6 444.6,651.5 444.8,655.9C445.0,660.2 441.4,660.6 441.6,665.3C441.7,670.1 444.2,678.8 445.7,684.3C447.2,689.8 450.0,693.8 450.7,698.5C451.4,703.3 450.0,710.4 449.9,712.8" fill="none" stroke="#a680dc" stroke-width="2.4" stroke-opacity="0.75"/>
<path d="M534.6,555.8C537.0,553.9 538.1,551.1 540.7,549.7C543.4,548.3 547.0,547.3 550.5,547.2C554.0,547.1 557.9,547.9 561.5,549.1C565.2,550.3 569.1,552.2 572.5,554.6C576.0,556.9 579.7,560.1 582.3,563.2C585.0,566.2 587.1,569.5 588.5,573.0C589.8,576.4 590.5,580.7 590.3,584.0C590.1,587.2 589.0,590.1 587.2,592.5C585.5,595.0 582.5,597.1 579.9,598.7C577.2,600.2 574.4,601.5 571.3,601.7C568.3,601.9 564.6,600.6 561.5,599.9C558.5,599.2 555.6,597.9 553.0,597.4C550.3,597.0 547.9,596.8 545.6,597.4C543.4,598.1 541.2,599.3 539.5,601.1C537.8,603.0 536.2,605.6 535.2,608.5C534.2,611.3 533.5,615.6 533.4,618.3C533.3,620.9 533.4,622.9 534.6,624.4C535.8,625.9 537.6,626.5 540.7,627.4C543.8,628.4 548.9,629.1 553.0,629.9C557.0,630.7 562.0,631.2 565.2,632.3C568.4,633.5 570.9,634.5 571.9,636.6C573.0,638.8 572.4,641.7 571.3,645.2C570.2,648.7 567.6,653.6 565.2,657.4C562.8,661.3 559.9,665.4 556.6,668.5C553.4,671.5 549.7,674.1 545.6,675.8C541.5,677.5 536.8,678.7 532.1,678.9C527.4,679.1 522.3,678.4 517.4,677.0C512.5,675.7 507.4,673.6 502.8,670.9C498.1,668.3 493.4,665.0 489.3,661.1C485.2,657.2 481.2,652.3 478.3,647.6C475.3,643.0 473.0,637.9 471.5,633.0C470.1,628.1 469.6,623.2 469.7,618.3C469.8,613.4 470.7,608.3 472.1,603.6C473.6,598.9 475.6,594.4 478.3,590.1C480.9,585.8 484.4,581.3 488.1,577.9C491.7,574.4 496.0,571.5 500.3,569.3C504.6,567.0 509.5,565.7 513.8,564.4C518.1,563.1 522.5,562.8 526.0,561.3C529.5,559.9 532.1,557.8 534.6,555.8Z" fill="#b5e0b9" stroke="#1f8a26" stroke-width="5.6" stroke-linejoin="round"/>
<path d="M517.4,620.7C514.9,621.3 511.8,620.6 508.9,622.5C505.9,624.5 504.3,624.3 507.7,627.1C511.0,629.8 521.0,630.0 519.9,631.7C518.8,633.5 508.9,631.0 504.0,633.0C499.0,634.9 498.2,635.2 503.4,638.1C508.5,641.0 521.7,639.9 521.1,642.8C520.6,645.6 507.0,644.6 501.5,647.6C496.0,650.7 496.9,650.8 502.8,652.8C508.6,654.8 519.3,651.5 521.1,654.4C523.0,657.2 512.2,658.6 508.9,662.3C505.6,666.1 507.5,665.3 510.1,666.7C512.7,668.2 515.4,667.1 517.7,667.2" fill="none" stroke="#a263dc" stroke-width="5.6" stroke-linecap="round" stroke-linejoin="round"/>
<path d="M547.1,640.5C545.5,639.4 544.6,636.3 541.9,636.6C539.3,637.0 537.9,637.0 538.3,641.8C538.6,646.5 544.3,651.5 543.2,652.5C542.1,653.6 538.6,647.7 534.6,645.2C530.5,642.7 530.1,640.5 529.7,644.2C529.3,647.9 534.5,655.7 533.4,657.4C532.3,659.2 529.3,651.9 526.0,650.1C522.8,648.3 522.1,648.6 522.6,651.6C523.0,654.5 526.0,657.4 527.5,659.9" fill="none" stroke="#8b49d1" stroke-width="5.0" stroke-linecap="round" stroke-linejoin="round"/>
<polygon points="726.3,279.3 822.7,257.4 919.2,279.3 919.2,323.7 822.7,345 726.3,323.7" fill="#c9e5f4" stroke="#63b9e2" stroke-width="5.2" stroke-linejoin="miter"/>
<text x="822.7" y="317.3" text-anchor="middle" font-size="48.2" fill="#0a0a14">Chelator</text>
<rect x="958" y="200.3" width="272.3" height="86.6" rx="20" fill="#b5e0b9" stroke="#1f8a26" stroke-width="5.4"/>
<text x="1093.8" y="257.6" text-anchor="middle" font-size="48.2" fill="#0a0a0a">Endolysin</text>
<circle cx="805.4" cy="564.4" r="39.3" fill="#3aa9c9" stroke="#2a93b4" stroke-width="1.6"/>
<text x="774" y="576" font-size="31" fill="#fff">Mg<tspan dy="-12" font-size="19.5">2+</tspan></text>
<circle cx="885.3" cy="628.7" r="39.3" fill="#2b66b4" stroke="#1d4e92" stroke-width="1.6"/>
<text x="854.5" y="640.5" font-size="31" fill="#fff">Ca<tspan dy="-12" font-size="19.5">2+</tspan></text>
<path d="M854.5,522.7C858.0,514.8 869.9,490.6 875.5,475.5C881.1,460.4 885.8,443.9 888.2,431.8C890.6,419.7 890.6,410.9 890.0,402.7C889.4,394.5 887.5,388.8 884.5,382.7C881.5,376.6 876.2,370.7 872.0,366.0C867.8,361.3 861.6,356.4 859.5,354.5" fill="none" stroke="#000" stroke-width="6.6" stroke-linecap="round" stroke-linejoin="round"/>
<path d="M912.5,574.2C914.4,569.3 920.8,555.4 924.0,545.0C927.2,534.6 929.9,523.4 931.8,511.8C933.7,500.2 935.5,486.4 935.5,475.5C935.5,464.6 934.2,455.5 931.8,446.4C929.4,437.3 925.8,429.1 920.9,420.9C916.0,412.7 909.1,404.9 902.7,397.3C896.3,389.7 889.9,382.6 882.7,375.5C875.5,368.4 863.4,358.0 859.5,354.5" fill="none" stroke="#000" stroke-width="6.6" stroke-linecap="round" stroke-linejoin="round"/>
<path d="M877.5,353.8 L858,353.2 L867.2,369.8" fill="none" stroke="#000" stroke-width="6.6" stroke-linecap="round" stroke-linejoin="round"/>
<path d="M1046.2,309.0C1042.8,314.1 1032.2,329.5 1026.0,339.5C1019.8,349.5 1014.4,357.9 1009.0,369.0C1003.6,380.1 998.6,392.9 993.6,406.4C988.6,419.9 983.3,435.5 979.1,450.0C974.9,464.5 971.2,478.8 968.2,493.6C965.2,508.5 962.7,524.7 960.9,539.1C959.1,553.5 958.0,566.5 957.6,580.0C957.2,593.5 957.4,606.7 958.5,620.0C959.6,633.3 962.2,649.2 964.5,660.0C966.8,670.8 970.0,677.9 972.5,685.0C975.0,692.1 978.3,699.6 979.5,702.5" fill="none" stroke="#000" stroke-width="6.6" stroke-linecap="round" stroke-linejoin="round"/>
<path d="M964,691.5 L980,704 L984,685" fill="none" stroke="#000" stroke-width="6.6" stroke-linecap="round" stroke-linejoin="round"/>
<path d="M1310.4,640 L1330.5,593" stroke="#0a0a0a" stroke-width="5.2" fill="none"/>
<g transform="translate(1381.6,469.4) rotate(-68.2)"><rect x="-135.2" y="-43.3" width="270.5" height="86.6" rx="21.0" fill="#b5e0b9" stroke="#1f8a26" stroke-width="5.4"/><text x="0.0" y="15.1" text-anchor="middle" font-size="48.2" fill="#0a0a0a">Endolysin</text></g>
<g transform="translate(1286.7,713.3) rotate(-68.2)"><rect x="-73.7" y="-27.1" width="147.3" height="54.3" rx="12.0" fill="#ebebeb" stroke="#444" stroke-width="4.9"/><text x="0.0" y="15.8" text-anchor="middle" font-size="48.2" fill="#0a0a0a">AMP</text></g>
<path d="M1633.2,655 C1633.8,672 1638.2,694 1645.2,711.5 V931 Q1645.2,941.4 1655.7,941.4 H1697.0 Q1707.4,941.4 1707.4,931 V711.5 C1714.4,694 1718.9,672 1719.4,655 C1703.3,684.6 1649.3,684.6 1633.2,655 Z" fill="#d55b71" stroke="#a5324b" stroke-width="2.2" stroke-linejoin="round"/><path d="M1645.8,711 C1653.2,739 1699.4,739 1706.9,711" fill="none" stroke="#a5324b" stroke-width="2.2"/><text transform="translate(1692.6,835.5) rotate(-90)" text-anchor="middle" font-size="48.2" fill="#fff">Receptor</text>
<path d="M1769.6,425 L1787.5,381" stroke="#0a0a0a" stroke-width="5.2" fill="none"/>
<g transform="translate(1836.4,254.2) rotate(-68.2)"><rect x="-135.2" y="-43.3" width="270.5" height="86.6" rx="21.0" fill="#b5e0b9" stroke="#1f8a26" stroke-width="5.4"/><text x="0.0" y="15.1" text-anchor="middle" font-size="48.2" fill="#0a0a0a">Endolysin</text></g>
<g transform="translate(1715.6,548.1) rotate(-67.7)"><path d="M131.5,-30.5 V30.5 H-101.0 A30.5,30.5 0 0 1 -101.0,-30.5 Z" fill="#fbd4e5" stroke="#f390b9" stroke-width="4.7" stroke-linejoin="round"/><text x="-1.0" y="13.5" text-anchor="middle" font-size="48.0" fill="#0a0a0a">Bacteriocin</text></g>
<path d="M2030.6,655 C2031.1,672 2035.6,694 2042.6,711.5 V931 Q2042.6,941.4 2053.0,941.4 H2094.4 Q2104.8,941.4 2104.8,931 V711.5 C2111.8,694 2116.3,672 2116.8,655 C2100.7,684.6 2046.7,684.6 2030.6,655 Z" fill="#7379d9" stroke="#4a50c6" stroke-width="2.2" stroke-linejoin="round"/><path d="M2043.1,711 C2050.6,739 2096.8,739 2104.3,711" fill="none" stroke="#4a50c6" stroke-width="2.2"/><text transform="translate(2090.0,835.5) rotate(-90)" text-anchor="middle" font-size="48.2" fill="#fff">Receptor</text>
<path d="M2183.6,393.5 L2199.5,359" stroke="#0a0a0a" stroke-width="5.2" fill="none"/>
<g transform="translate(2246.9,233.4) rotate(-68.2)"><rect x="-135.2" y="-43.3" width="270.5" height="86.6" rx="21.0" fill="#b5e0b9" stroke="#1f8a26" stroke-width="5.4"/><text x="0.0" y="15.1" text-anchor="middle" font-size="48.2" fill="#0a0a0a">Endolysin</text></g>
<g transform="translate(2119.7,532.4) rotate(-66.8)"><path d="M149.2,-31.2 V31.2 H-118.0 A31.2,31.2 0 0 1 -118.0,-31.2 Z" fill="#d5d7f7" stroke="#9398e1" stroke-width="4.7" stroke-linejoin="round"/><text x="1.0" y="13.5" text-anchor="middle" font-size="48.0" fill="#0a0a0a">Phage RBP</text></g>
<text x="163.2" y="75.4" font-size="48.1" font-weight="bold" fill="#0c0c0c">A. Intrinsically active</text>
<text x="284.6" y="125.4" font-size="48.1" font-weight="bold" fill="#0c0c0c">endolysins</text>
<text x="789.8" y="75.2" font-size="48.1" font-weight="bold" fill="#0c0c0c">B. Chelators</text>
<text x="1219.6" y="70.1" font-size="48.1" font-weight="bold" fill="#0c0c0c">C. Artilysins</text>
<text x="1646" y="70.1" font-size="48.1" font-weight="bold" fill="#0c0c0c">D. Lysocins</text>
<text x="2060" y="70.1" font-size="48.1" font-weight="bold" fill="#0c0c0c">E. Innolysins</text>
<text x="33.2" y="904.6" font-size="51.8" fill="#0c0c0c">OM</text>
<text x="40.6" y="1128.2" font-size="51.8" fill="#0c0c0c">PG</text>
<text x="1977.5" y="1227.3" font-size="34.5" fill="#0c0c0c">Current Opinion in Microbiology</text>
<path d="M1.75,1.75 H2498.3 V1264.35 H1.75 Z" fill="none" stroke="#000" stroke-width="3.5"/>
</svg></body></html>
